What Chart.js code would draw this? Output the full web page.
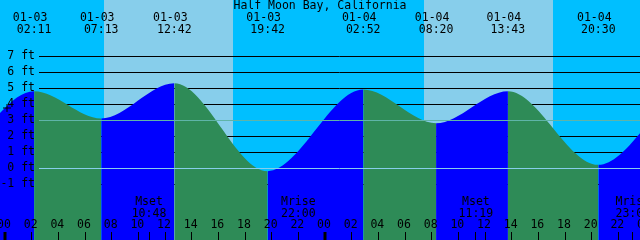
<!DOCTYPE html>
<html>
<head>
<meta charset="utf-8">
<script src="https://cdn.jsdelivr.net/npm/chart.js@4"></script>
<style>
    body { margin: 0; background: #fff; overflow: hidden; }
    #wrap { width: 640px; height: 240px; position: relative; }
</style>
</head>
<body>
<div id="wrap"><canvas id="tideChart"></canvas></div>
<script>
// tide extremes (first two and last two are just outside the window)
const tideTimes = ['01-02 12:10', '01-02 18:45', '01-03 02:11', '01-03 07:13', '01-03 12:42', '01-03 19:42',
                   '01-04 02:52', '01-04 08:20', '01-04 13:43', '01-04 20:30', '01-05 03:30', '01-05 09:10'];
const tideHeights = [5.2, -0.2, 4.8, 3.1, 5.3, -0.2, 4.9, 2.8, 4.8, 0.2, 4.9, 2.6];

// sun and moon
const sunrise = ['01-03 07:26', '01-04 07:26'];
const sunset = ['01-03 17:06', '01-04 17:07'];
const moonLabels = ['Mset', 'Mrise', 'Mset', 'Mrise'];
const moonTimes = ['01-03 10:48', '01-03 22:00', '01-04 11:19', '01-04 23:05'];

// current time marker
const nowTime = '01-03 00:09';
const nowHeight = 3.75;

// axis ticks
const yTicks = [7, 6, 5, 4, 3, 2, 1, 0, -1];
const hourTicks = [0, 2, 4, 6, 8, 10, 12, 14, 16, 18, 20, 22, 24, 26, 28, 30, 32, 34, 36, 38, 40, 42, 44, 46, 48];

const title = 'Half Moon Bay, California';
const font = '11.5px "DejaVu Sans Mono"';

// hours counted from 01-03 00:00
function toHours(s) {
    const day = parseInt(s.slice(3, 5), 10);
    const hh = parseInt(s.slice(6, 8), 10);
    const mm = parseInt(s.slice(9, 11), 10);
    return (day - 3) * 24 + hh + mm / 60;
}

function pad2(n) {
    return String(n).padStart(2, '0');
}

const tidePoints = tideTimes.map((t, i) => ({ x: toHours(t), y: tideHeights[i] }));

const tideDecor = {
    id: 'tideDecor',
    beforeDatasetsDraw(chart) {
        const { ctx, chartArea: a, scales: { x, y } } = chart;
        ctx.save();
        ctx.fillStyle = '#00BFFF';
        ctx.fillRect(a.left, a.top, a.right - a.left, a.bottom - a.top);
        ctx.fillStyle = '#87CEEB';
        sunrise.forEach((t, i) => {
            const x0 = x.getPixelForValue(toHours(t));
            const x1 = x.getPixelForValue(toHours(sunset[i]));
            ctx.fillRect(Math.round(x0), a.top, Math.round(x1) - Math.round(x0), a.bottom - a.top);
        });
        ctx.strokeStyle = '#000';
        ctx.lineWidth = 1;
        yTicks.forEach(v => {
            const py = Math.round(y.getPixelForValue(v)) + 0.5;
            ctx.beginPath();
            ctx.moveTo(39, py);
            ctx.lineTo(a.right, py);
            ctx.stroke();
        });
        ctx.restore();
    },
    afterDatasetsDraw(chart) {
        const { ctx, chartArea: a, scales: { x, y } } = chart;
        ctx.save();

        // reference lines over the water
        [[3, '#5fb4a8'], [0, '#87CEEB']].forEach(([v, c]) => {
            const py = Math.round(y.getPixelForValue(v)) + 0.5;
            ctx.strokeStyle = c;
            ctx.beginPath();
            ctx.moveTo(39, py);
            ctx.lineTo(a.right, py);
            ctx.stroke();
        });

        ctx.fillStyle = '#000';
        ctx.font = font;
        ctx.textBaseline = 'middle';

        // feet labels
        ctx.textAlign = 'right';
        yTicks.forEach(v => {
            ctx.fillText(v + ' ft', 35, y.getPixelForValue(v) + 0.5);
        });

        // title and extreme times
        ctx.textAlign = 'center';
        ctx.fillText(title, 320, 6.5);
        tideTimes.forEach(t => {
            const h = toHours(t);
            if (h < x.min || h > x.max) return;
            const px = x.getPixelForValue(h);
            ctx.fillText(t.slice(0, 5), px - 4, 18);
            ctx.fillText(t.slice(6), px, 30);
        });

        // hour labels and ticks
        ctx.strokeStyle = '#000';
        hourTicks.forEach(h => {
            const px = x.getPixelForValue(h);
            ctx.fillText(pad2(h % 24), px - 1, 225.5);
            ctx.lineWidth = h % 24 === 0 ? 3 : 1;
            const lx = h % 24 === 0 ? Math.round(px) : Math.floor(px) + 0.5;
            ctx.beginPath();
            ctx.moveTo(lx, 232);
            ctx.lineTo(lx, a.bottom);
            ctx.stroke();
        });

        // moon rise / set
        ctx.lineWidth = 1;
        moonTimes.forEach((t, i) => {
            const px = x.getPixelForValue(toHours(t));
            ctx.fillText(moonLabels[i], px, 202);
            ctx.fillText(t.slice(6), px, 214);
            const lx = Math.floor(px) + 0.5;
            ctx.beginPath();
            ctx.moveTo(lx, 232);
            ctx.lineTo(lx, a.bottom);
            ctx.stroke();
        });
        ctx.restore();
    }
};

function initializeChart() {
    const ctx = document.getElementById('tideChart').getContext('2d');
    new Chart(ctx, {
        type: 'line',
        data: {
            datasets: [{
                label: 'now',
                data: [{ x: toHours(nowTime), y: nowHeight }],
                showLine: false,
                pointStyle: 'cross',
                pointRadius: 4,
                borderColor: '#000',
                borderWidth: 1,
                fill: false,
                clip: false,
                order: 0
            }, {
                label: 'tide',
                data: tidePoints,
                borderColor: 'rgba(0,0,0,0)',
                borderWidth: 0,
                pointRadius: 0,
                cubicInterpolationMode: 'monotone',
                capBezierPoints: false,
                fill: 'start',
                backgroundColor: '#2E8B57',
                segment: {
                    backgroundColor: c => c.p1.parsed.y > c.p0.parsed.y ? '#0000FF' : '#2E8B57'
                },
                order: 1
            }]
        },
        options: {
            responsive: true,
            maintainAspectRatio: false,
            animation: false,
            layout: { padding: 0, autoPadding: false },
            plugins: {
                legend: { display: false },
                tooltip: { enabled: false }
            },
            scales: {
                x: { type: 'linear', min: -0.375, max: 47.625, display: false },
                y: { type: 'linear', min: -4.5, max: 10.5, display: false }
            }
        },
        plugins: [tideDecor]
    });
}

document.addEventListener('DOMContentLoaded', initializeChart);
</script>
</body>
</html>
